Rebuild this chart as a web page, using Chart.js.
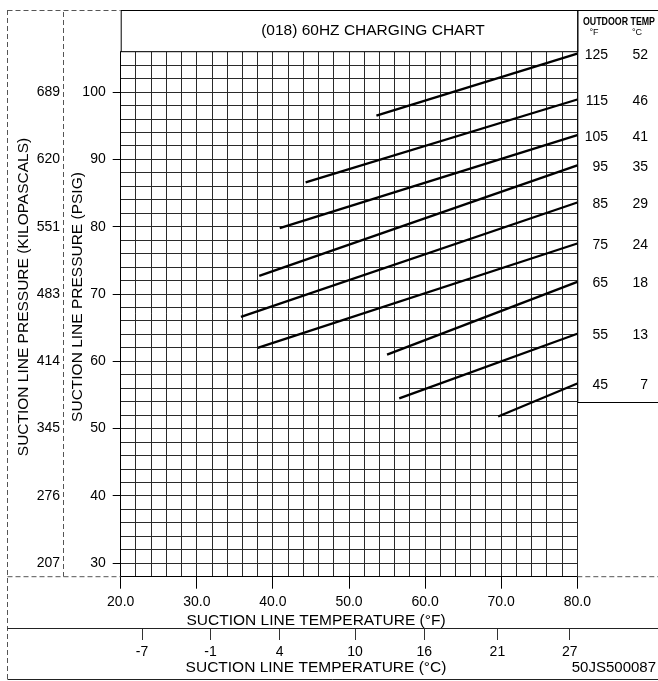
<!DOCTYPE html>
<html lang="en">
<head>
<meta charset="UTF-8" />
<title>(018) 60HZ Charging Chart</title>
<script src="https://cdn.jsdelivr.net/npm/chart.js"></script>
</head>
<body style="margin: 0; padding: 0; background-color: white;">
<div style="width: 658px; height: 681px;">
  <canvas id="chargingChart" width="658" height="681"></canvas>
</div>
<script>
  // one line per outdoor temperature (legend box rows)
  var outdoorF = [125, 115, 105, 95, 85, 75, 65, 55, 45];
  var outdoorC = [52, 46, 41, 35, 29, 24, 18, 13, 7];
  var startTempF = [53.6, 44.3, 40.9, 38.2, 35.8, 38.0, 55.0, 56.6, 69.6];
  var startPsig = [96.5, 86.6, 79.8, 72.7, 66.6, 62.0, 61.0, 54.5, 51.8];
  var endTempF = [80, 80, 80, 80, 80, 80, 80, 80, 80];
  var endPsig = [105.7, 98.9, 93.6, 89.1, 83.6, 77.5, 71.8, 64.1, 56.7];

  // axis labels
  var psigTicks = [30, 40, 50, 60, 70, 80, 90, 100];
  var kpaLabels = ['207', '276', '345', '414', '483', '551', '620', '689'];
  var celsiusLabels = ['-7', '-1', '4', '10', '16', '21', '27'];
  var celsiusAtF = [22.8, 31.8, 40.9, 50.8, 59.9, 69.5, 79.0];

  var FONT = '"Liberation Sans", Arial, sans-serif';

  var datasets = outdoorF.map(function (t, i) {
    return {
      label: t + ' °F',
      data: [{ x: startTempF[i], y: startPsig[i] }, { x: endTempF[i], y: endPsig[i] }],
      showLine: true,
      borderColor: '#000',
      borderWidth: 2.3,
      pointRadius: 0,
      fill: false
    };
  });

  function majorTick(ctx) {
    return ctx.tick && ctx.tick.value % 10 === 0 ? '#000' : 'rgba(0,0,0,0)';
  }

  // frame, title box, outdoor temp box and axis titles
  var framePlugin = {
    id: 'frame',
    afterDraw: function (chart) {
      var ctx = chart.ctx;
      var a = chart.chartArea;
      var y = chart.scales.y;
      var x2 = chart.scales.x2;
      var y2 = chart.scales.y2;
      ctx.save();
      ctx.lineWidth = 1;

      // dashed outer lines
      ctx.strokeStyle = '#555';
      ctx.setLineDash([5, 3]);
      ctx.beginPath();
      ctx.moveTo(7.5, 10); ctx.lineTo(7.5, 680);
      ctx.moveTo(7.5, 10.5); ctx.lineTo(a.left, 10.5);
      ctx.moveTo(y2.right + 0.5, 12); ctx.lineTo(y2.right + 0.5, a.bottom);
      ctx.moveTo(7.5, a.bottom); ctx.lineTo(a.left, a.bottom);
      ctx.moveTo(a.right, a.bottom); ctx.lineTo(658, a.bottom);
      ctx.stroke();

      // solid lines
      ctx.setLineDash([]);
      ctx.strokeStyle = '#222';
      ctx.beginPath();
      ctx.moveTo(7.5, x2.top + 0.5); ctx.lineTo(658, x2.top + 0.5);
      ctx.moveTo(7.5, 679.5); ctx.lineTo(658, 679.5);
      ctx.stroke();

      // title box
      ctx.fillStyle = '#fff';
      ctx.fillRect(a.left, 10, a.right - a.left, a.top - 10);
      ctx.strokeStyle = '#000';
      ctx.strokeRect(a.left + 0.5, 10.5, a.right - a.left, a.top - 10.5);
      ctx.fillStyle = '#000';
      ctx.textAlign = 'center';
      ctx.textBaseline = 'middle';
      ctx.font = '15.5px ' + FONT;
      ctx.fillText('(018) 60HZ CHARGING CHART', 373, 31);

      // outdoor temperature box
      var last = endPsig.length - 1;
      var boxBottom = Math.round(y.getPixelForValue(endPsig[last]) + 18) + 0.5;
      ctx.beginPath();
      ctx.moveTo(a.right, 10.5); ctx.lineTo(658, 10.5);
      ctx.moveTo(a.right + 0.5, 10.5); ctx.lineTo(a.right + 0.5, boxBottom);
      ctx.lineTo(658, boxBottom);
      ctx.stroke();

      ctx.save();
      ctx.font = 'bold 11px ' + FONT;
      var head = 'OUTDOOR TEMP';
      var w = ctx.measureText(head).width;
      ctx.translate(619, 22);
      ctx.scale(72 / w, 1);
      ctx.fillText(head, 0, 0);
      ctx.restore();
      ctx.font = '9px ' + FONT;
      ctx.fillText('°F', 594, 33);
      ctx.fillText('°C', 637, 33);

      ctx.font = '14px ' + FONT;
      ctx.textAlign = 'right';
      for (var i = 0; i < outdoorF.length; i++) {
        var py = y.getPixelForValue(endPsig[i]) + 1.5;
        ctx.fillText(String(outdoorF[i]), 608, py);
        ctx.fillText(String(outdoorC[i]), 648, py);
      }

      // axis titles
      ctx.textAlign = 'center';
      ctx.font = '15.5px ' + FONT;
      ctx.fillText('SUCTION LINE TEMPERATURE (°F)', 316, 621);
      ctx.fillText('SUCTION LINE TEMPERATURE (°C)', 316, 668);
      ctx.save();
      ctx.translate(78, 297);
      ctx.rotate(-Math.PI / 2);
      ctx.fillText('SUCTION LINE PRESSURE (PSIG)', 0, 0);
      ctx.restore();
      ctx.save();
      ctx.translate(24, 297);
      ctx.rotate(-Math.PI / 2);
      ctx.fillText('SUCTION LINE PRESSURE (KILOPASCALS)', 0, 0);
      ctx.restore();

      ctx.textAlign = 'right';
      ctx.font = '15px ' + FONT;
      ctx.fillText('50JS500087', 656, 668);
      ctx.restore();
    }
  };

  var chart = new Chart(document.getElementById('chargingChart').getContext('2d'), {
    type: 'scatter',
    data: { datasets: datasets },
    plugins: [framePlugin],
    options: {
      responsive: false,
      animation: false,
      layout: { padding: { left: 7, top: 51.7, right: 80.7, bottom: 2 } },
      plugins: {
        legend: { display: false },
        tooltip: { enabled: false }
      },
      scales: {
        x: {
          type: 'linear',
          position: 'bottom',
          weight: 0,
          min: 20,
          max: 80,
          afterFit: function (s) { s.height = 51.3; },
          ticks: {
            stepSize: 2,
            autoSkip: false,
            maxRotation: 0,
            padding: 5,
            color: '#000',
            font: { family: FONT, size: 14 },
            callback: function (v) { return v % 10 === 0 ? v.toFixed(1) : ''; }
          },
          grid: { color: '#2a2a2a', lineWidth: 1, tickLength: 12, tickColor: majorTick },
          border: { color: '#000' }
        },
        x2: {
          type: 'linear',
          position: 'bottom',
          weight: 1,
          min: 20,
          max: 80,
          afterFit: function (s) { s.height = 51; },
          afterBuildTicks: function (s) {
            s.ticks = celsiusAtF.map(function (v) { return { value: v }; });
          },
          ticks: {
            autoSkip: false,
            maxRotation: 0,
            padding: 4,
            color: '#000',
            font: { family: FONT, size: 14 },
            callback: function (v, i) { return celsiusLabels[i]; }
          },
          grid: { drawOnChartArea: false, tickLength: 12, tickColor: '#333' },
          border: { display: false }
        },
        y: {
          type: 'linear',
          position: 'left',
          weight: 0,
          min: 28,
          max: 106,
          afterFit: function (s) { s.width = 57.7; },
          ticks: {
            stepSize: 2,
            autoSkip: false,
            padding: 7,
            color: '#000',
            font: { family: FONT, size: 14 },
            callback: function (v) { return psigTicks.indexOf(v) >= 0 ? String(v) : ''; }
          },
          grid: { color: '#2a2a2a', lineWidth: 1, tickLength: 8, tickColor: majorTick },
          border: { color: '#000' }
        },
        y2: {
          type: 'linear',
          position: 'left',
          weight: 1,
          min: 28,
          max: 106,
          afterFit: function (s) { s.width = 56; },
          afterBuildTicks: function (s) {
            s.ticks = psigTicks.map(function (v) { return { value: v }; });
          },
          ticks: {
            autoSkip: false,
            padding: 3,
            color: '#000',
            font: { family: FONT, size: 14 },
            callback: function (v, i) { return kpaLabels[i]; }
          },
          grid: { drawOnChartArea: false, drawTicks: false },
          border: { display: false }
        }
      }
    }
  });
</script>
</body>
</html>
